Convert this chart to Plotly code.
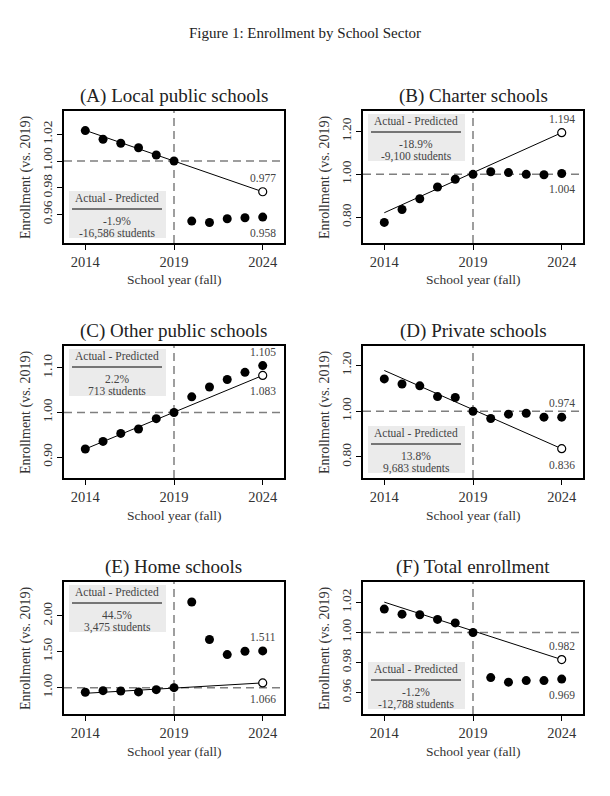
import plotly.graph_objects as go

# page body has an 8px margin; figure is drawn in reference-pixel coordinates minus OFF
OFF = 8
W, H = 610 - OFF, 796 - OFF

years = list(range(2014, 2025))
titles = ["(A) Local public schools", "(B) Charter schools", "(C) Other public schools",
          "(D) Private schools", "(E) Home schools", "(F) Total enrollment"]
local = [1.0228, 1.0163, 1.0133, 1.0100, 1.0045, 1.0000, 0.9550, 0.9540, 0.9568, 0.9575, 0.958]
charter = [0.776, 0.836, 0.886, 0.941, 0.977, 1.0, 1.012, 1.008, 1.0, 0.998, 1.004]
other = [0.918, 0.935, 0.953, 0.963, 0.986, 1.0, 1.035, 1.057, 1.074, 1.090, 1.105]
private = [1.141, 1.119, 1.111, 1.064, 1.060, 1.0, 0.968, 0.987, 0.991, 0.974, 0.974]
home = [0.935, 0.958, 0.953, 0.940, 0.972, 1.0, 2.191, 1.670, 1.460, 1.507, 1.511]
total = [1.0156, 1.0122, 1.0118, 1.0087, 1.0064, 1.0, 0.970, 0.967, 0.968, 0.968, 0.969]
actual = [local, charter, other, private, home, total]
actual_labels = ["0.958", "1.004", "1.105", "0.974", "1.511", "0.969"]
pred_years = [2014, 2024]
pred_start = [1.023, 0.821, 0.918, 1.178, 0.921, 1.0202]
pred_end = [0.977, 1.194, 1.083, 0.836, 1.066, 0.982]
pred_labels = ["0.977", "1.194", "1.083", "0.836", "1.066", "0.982"]
diff_pct = ["-1.9%", "-18.9%", "2.2%", "13.8%", "44.5%", "-1.2%"]
diff_students = ["-16,586 students", "-9,100 students", "713 students",
                 "9,683 students", "3,475 students", "-12,788 students"]
box_top = [False, True, True, False, True, False]
yticks = [[0.96, 0.98, 1.00, 1.02], [0.80, 1.00, 1.20], [0.90, 1.00, 1.10],
          [0.80, 1.00, 1.20], [1.00, 1.50, 2.00], [0.96, 0.98, 1.00, 1.02]]
yranges = [[0.9386, 1.0375], [0.680, 1.295], [0.853, 1.149],
           [0.708, 1.285], [0.633, 2.470], [0.9458, 1.0336]]
xticks = [2014, 2019, 2024]
xrange_ = [2012.8, 2025.2]

# layout geometry (reference pixels)
col_left = [64, 363]
plot_w = 220
row_top = [111, 346, 582]
plot_h = 132

FONT = "Liberation Serif"
TXT = "#333333"

def px(x):
    return (x - OFF) / W

def py(y):
    return 1 - (y - OFF) / H

fig = go.Figure()
shapes = []
annotations = []
layout = {}

for i in range(6):
    r, c = divmod(i, 2)
    n = i + 1
    xa = "x" if n == 1 else f"x{n}"
    ya = "y" if n == 1 else f"y{n}"
    xkey = "xaxis" if n == 1 else f"xaxis{n}"
    ykey = "yaxis" if n == 1 else f"yaxis{n}"
    L, T = col_left[c], row_top[r]
    R, B = L + plot_w, T + plot_h
    layout[xkey] = dict(domain=[px(L), px(R)], anchor=ya, range=xrange_,
                        tickvals=xticks, ticks="outside", ticklen=5, tickcolor="black",
                        showline=True, linecolor="black", linewidth=1.5, mirror=True,
                        showgrid=False, zeroline=False,
                        tickfont=dict(family=FONT, size=14.5, color=TXT))
    layout[ykey] = dict(domain=[py(B), py(T)], anchor=xa, range=yranges[i],
                        tickvals=yticks[i], tickformat=".2f", ticks="outside",
                        ticklen=5, tickcolor="black", tickangle=-90,
                        showline=True, linecolor="black", linewidth=1.5, mirror=True,
                        showgrid=False, zeroline=False,
                        tickfont=dict(family=FONT, size=13.5, color=TXT))

    # reference dashed lines
    shapes.append(dict(type="line", xref=f"{xa} domain", yref=ya, x0=0, x1=1, y0=1, y1=1,
                       line=dict(color="#7f7f7f", width=1.5, dash="8px,5px"), layer="below"))
    shapes.append(dict(type="line", xref=xa, yref=f"{ya} domain", x0=2019, x1=2019, y0=0, y1=1,
                       line=dict(color="#7f7f7f", width=1.5, dash="8px,5px"), layer="below"))

    # prediction line
    fig.add_trace(go.Scatter(x=pred_years, y=[pred_start[i], pred_end[i]], mode="lines",
                             line=dict(color="black", width=1), xaxis=xa, yaxis=ya,
                             showlegend=False, hoverinfo="skip"))
    # actual points
    fig.add_trace(go.Scatter(x=years, y=actual[i], mode="markers",
                             marker=dict(color="black", size=9), xaxis=xa, yaxis=ya,
                             showlegend=False))
    # predicted endpoint
    fig.add_trace(go.Scatter(x=[pred_years[1]], y=[pred_end[i]], mode="markers",
                             marker=dict(color="white", size=8, line=dict(color="black", width=1.2)),
                             xaxis=xa, yaxis=ya, showlegend=False))

    # value labels
    a_last = actual[i][-1]
    p_last = pred_end[i]
    for val, lab in [(a_last, actual_labels[i]), (p_last, pred_labels[i])]:
        up = val == max(a_last, p_last)
        annotations.append(dict(x=2024, y=val, xref=xa, yref=ya, text=lab, showarrow=False,
                                yshift=14 if up else -16,
                                font=dict(family=FONT, size=11.5, color="#444444")))

    # box
    bt = T + (3 if box_top[i] else 80)
    bx0, bx1 = L + 5, L + 102
    shapes.append(dict(type="rect", xref="paper", yref="paper", x0=px(bx0), x1=px(bx1),
                       y0=py(bt + 47), y1=py(bt), fillcolor="#ebebeb", line=dict(width=0),
                       layer="below"))
    shapes.append(dict(type="line", xref="paper", yref="paper", x0=px(L + 8), x1=px(L + 98),
                       y0=py(bt + 18), y1=py(bt + 18), line=dict(color="black", width=1)))
    cx = px(L + 53)
    for dy, t in [(7, "Actual - Predicted"), (30, diff_pct[i]), (42, diff_students[i])]:
        annotations.append(dict(x=cx, y=py(bt + dy), xref="paper", yref="paper", text=t,
                                showarrow=False, xanchor="center", yanchor="middle",
                                font=dict(family=FONT, size=11.5, color="#444444")))

    # panel title
    annotations.append(dict(x=px((L + R) / 2), y=py(T - 15), xref="paper", yref="paper",
                            text=titles[i], showarrow=False, xanchor="center", yanchor="middle",
                            font=dict(family=FONT, size=19, color="#222222")))
    # axis titles
    annotations.append(dict(x=px((L + R) / 2), y=py(B + 37), xref="paper", yref="paper",
                            text="School year (fall)", showarrow=False, xanchor="center",
                            yanchor="middle", font=dict(family=FONT, size=13.5, color=TXT)))
    annotations.append(dict(x=px(L - 38), y=py((T + B) / 2), xref="paper", yref="paper",
                            text="Enrollment (vs. 2019)", showarrow=False, textangle=-90,
                            xanchor="center", yanchor="middle",
                            font=dict(family=FONT, size=14, color=TXT)))

annotations.append(dict(x=px(305), y=py(33), xref="paper", yref="paper",
                        text="Figure 1: Enrollment by School Sector", showarrow=False,
                        xanchor="center", yanchor="middle",
                        font=dict(family=FONT, size=15, color="#222222")))

fig.update_layout(width=W, height=H, margin=dict(l=0, r=0, t=0, b=0),
                  paper_bgcolor="white", plot_bgcolor="white",
                  shapes=shapes, annotations=annotations, **layout)

fig.write_html("out.html")
